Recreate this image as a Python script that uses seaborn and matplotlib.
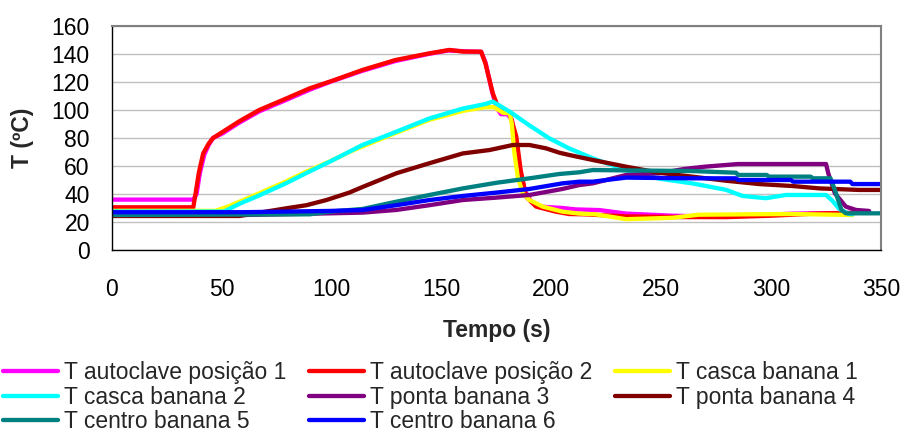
import matplotlib
matplotlib.use("Agg")
import matplotlib.pyplot as plt
import seaborn as sns
import pandas as pd

# ---------------- data ----------------
labels = ["T autoclave posição 1", "T autoclave posição 2", "T casca banana 1",
          "T casca banana 2", "T ponta banana 3", "T ponta banana 4",
          "T centro banana 5", "T centro banana 6"]
colors = ["#FF00FF", "#FF0000", "#FFFF00", "#00FFFF", "#800080", "#800000",
          "#008080", "#0000FF"]

t_auto1 = [0, 37, 38.5, 40, 42, 44, 46, 50, 58, 67, 79, 90, 100, 114, 129, 144, 153, 160, 168,
           170, 173, 175, 177, 180, 182, 184, 186, 188, 191, 195, 205, 211, 222, 234, 255, 270,
           290, 310, 337]
T_auto1 = [36, 36, 40, 55, 68, 75, 80, 83, 91, 99, 107, 114.5, 120.5, 128, 135, 140, 142.5, 142,
           141.5, 134, 113, 102, 97, 97, 93, 75, 55, 42, 34, 31, 30, 29, 28.5, 26, 24.5, 24,
           24.5, 26, 26.5]

t_auto2 = [0, 37, 38, 39.5, 41.5, 44, 46, 50, 58, 67, 79, 90, 100.5, 114, 129, 144.5, 153.6,
           160, 168, 170, 173.3, 175.6, 178, 181, 184, 186, 188.5, 193, 202, 208, 215, 234, 260,
           280, 300, 320, 337]
T_auto2 = [30.5, 30.5, 40, 55, 69, 76, 80, 84, 92, 100, 108, 115.5, 121, 128.6, 135.7, 140.5,
           142.9, 141.7, 141.7, 133, 112, 102.4, 99, 97.6, 81, 57, 38, 31, 27.4, 25.7, 25.5, 24,
           23.5, 23.5, 24.5, 26, 26.5]

t_casca1 = [0, 47, 52, 58, 67, 79, 88.5, 100.6, 108, 114, 129, 144.5, 160, 170, 174, 178, 181,
            182, 183, 184.7, 187, 190, 196, 205, 212.7, 220, 234, 255, 267, 290, 310, 337]
T_casca1 = [28, 28, 30.5, 34.5, 40.5, 48.8, 56, 64.3, 70, 74, 83.5, 93, 99.5, 102, 102, 98,
            97.6, 90, 71, 52, 40.5, 35.7, 31, 27.4, 26, 25.5, 22, 23, 25.2, 25.5, 25.7, 25]

t_casca2 = [0, 51, 58, 67, 79, 88.5, 99, 114, 129.4, 144.5, 159.7, 170, 173.3, 181, 190, 199,
            208, 218.8, 234, 249, 264, 279.4, 287, 297.6, 306.7, 325, 328, 331, 335.5, 337]
T_casca2 = [27.5, 27.5, 33, 39, 47.5, 55, 63, 75, 84.5, 94, 101, 104.3, 106, 98.8, 89, 79.8,
            72.6, 65.5, 57, 51, 47.6, 43, 38.6, 37, 39.3, 39.3, 35, 29.3, 25.7, 25.5]

t_ponta3 = [0, 60, 99, 114, 129.4, 144.5, 159.7, 174.9, 190, 205, 212.7, 218.8, 234, 249,
            260.6, 269.7, 284.8, 325, 326, 329, 334, 338.6, 344.6]
T_ponta3 = [25, 25, 26.2, 26.7, 28.6, 32, 35.7, 37.4, 39.3, 43.6, 46.4, 47.6, 53.6, 54.8, 57.9,
            59.5, 61.4, 61.4, 54.8, 40.5, 31, 28.6, 27.9]

t_ponta4 = [0, 58, 70, 79.4, 88.5, 97.6, 108, 114, 129.4, 144.5, 159.7, 171.8, 182.4, 190,
            197.6, 203.6, 208, 218.8, 234, 249, 264, 279.4, 294.5, 309.7, 322, 340, 350]
T_ponta4 = [24.3, 24.3, 27.4, 29.8, 32, 35.7, 41, 45, 54.8, 62, 69, 71.4, 75, 75, 72.6, 69.5,
            67.9, 64.3, 59.5, 55.2, 52.4, 49.5, 47.1, 45.7, 44, 42.9, 42.9]

t_centro5 = [0, 90, 99, 114, 129.4, 144.5, 159.7, 174.9, 190, 203.6, 212.7, 218.8, 264, 284,
             285, 298, 299, 318, 319, 327, 329, 332, 334, 350]
T_centro5 = [25, 25.5, 27.4, 29.3, 34.5, 39.3, 44, 48, 51.2, 54.3, 55.5, 57.1, 56.4, 55.2, 53.6,
             53.6, 52.4, 52.4, 51.2, 51.2, 42.9, 28.6, 26.2, 26.2]

t_centro6 = [0, 60, 99, 114, 129.4, 144.5, 159.7, 174.9, 190, 205, 212.7, 218.8, 234, 264, 284,
             285, 309, 310, 336, 337, 350]
T_centro6 = [27, 27, 27.9, 28.6, 32, 35.7, 38.6, 41, 43.6, 47.6, 48.8, 48.8, 51.7, 51.2, 51.2,
             50, 50, 48.8, 48.8, 47.1, 47.1]

x_ticks = [0, 50, 100, 150, 200, 250, 300, 350]
y_ticks = [0, 20, 40, 60, 80, 100, 120, 140, 160]

series_t = [t_auto1, t_auto2, t_casca1, t_casca2, t_ponta3, t_ponta4, t_centro5, t_centro6]
series_T = [T_auto1, T_auto2, T_casca1, T_casca2, T_ponta3, T_ponta4, T_centro5, T_centro6]

frames = []
for lab, tt, TT in zip(labels, series_t, series_T):
    frames.append(pd.DataFrame({"Tempo": tt, "T": TT, "serie": lab}))
df = pd.concat(frames, ignore_index=True)

# ---------------- plot ----------------
sns.set_theme(style="white")
plt.rcParams["font.family"] = ["Liberation Sans", "DejaVu Sans"]
FS = 16.5

fig = plt.figure(figsize=(9.04, 4.33), dpi=100)
ax = fig.add_axes([112 / 904, 1 - 250 / 433, 769 / 904, 224 / 433])

for lab, col in zip(labels, colors):
    sub = df[df["serie"] == lab]
    sns.lineplot(data=sub, x="Tempo", y="T", color=col, linewidth=3.1, ax=ax,
                 estimator=None, sort=False, label=lab, legend=False)

ax.set_xlim(0, 350)
ax.set_ylim(0, 160)
ax.set_xticks(x_ticks)
ax.set_yticks(y_ticks)
ax.tick_params(axis="both", labelsize=FS, colors="black", direction="out",
               length=6, width=1)
ax.tick_params(axis="x", pad=14)
ax.tick_params(axis="y", pad=10)
ax.yaxis.grid(True, color="#C0C0C0", linewidth=1)
ax.set_axisbelow(True)
for s in ["left", "bottom"]:
    ax.spines[s].set_color("black")
    ax.spines[s].set_linewidth(1)
for s in ["top", "right"]:
    ax.spines[s].set_color("#808080")
    ax.spines[s].set_linewidth(1.5)

ax.set_xlabel("Tempo (s)", fontsize=FS, fontweight="bold", va="center")
ax.xaxis.set_label_coords(0.5, (250 - 330) / 224)
ax.set_ylabel("T (ºC)", fontsize=FS, fontweight="bold", va="center")
ax.yaxis.set_label_coords((23 - 112) / 769, 0.5)

handles, labs = ax.get_legend_handles_labels()
order = [0, 3, 6, 1, 4, 7, 2, 5]
fig.legend([handles[i] for i in order], [labs[i] for i in order], ncol=3,
           loc="upper left", bbox_to_anchor=(3 / 904, 1 - 361 / 433), frameon=False,
           fontsize=FS, handlelength=2.4, handletextpad=0.25, columnspacing=1.0,
           labelspacing=0.07, borderpad=0, borderaxespad=0)

fig.savefig("out.png", dpi=100)
